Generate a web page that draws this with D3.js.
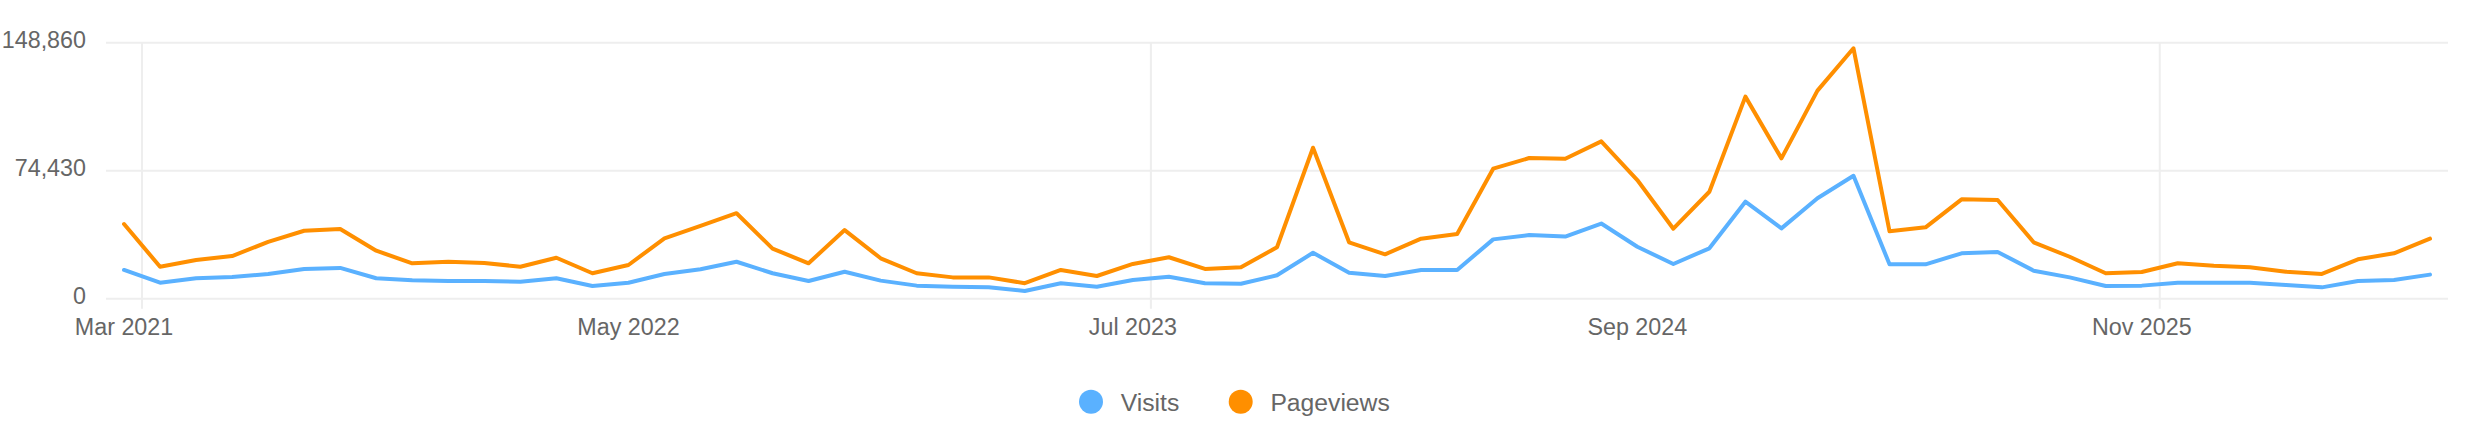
<!DOCTYPE html>
<html>
<head>
<meta charset="utf-8">
<script src="https://cdn.jsdelivr.net/npm/d3@7"></script>
<style>
  html, body { margin: 0; padding: 0; background: #fff; }
  svg { display: block; }
  text { font-family: "Liberation Sans", Arial, sans-serif; fill: #666; }
</style>
</head>
<body>
<svg id="chart" width="2468" height="440"></svg>
<script>
const months = [
  "2021-03","2021-04","2021-05","2021-06","2021-07","2021-08","2021-09","2021-10","2021-11","2021-12",
  "2022-01","2022-02","2022-03","2022-04","2022-05","2022-06","2022-07","2022-08","2022-09","2022-10","2022-11","2022-12",
  "2023-01","2023-02","2023-03","2023-04","2023-05","2023-06","2023-07","2023-08","2023-09","2023-10","2023-11","2023-12",
  "2024-01","2024-02","2024-03","2024-04","2024-05","2024-06","2024-07","2024-08","2024-09","2024-10","2024-11","2024-12",
  "2025-01","2025-02","2025-03","2025-04","2025-05","2025-06","2025-07","2025-08","2025-09","2025-10","2025-11","2025-12",
  "2026-01","2026-02","2026-03","2026-04","2026-05","2026-06","2026-07"
];
const visits = [16700,9300,11900,12600,14400,17300,17900,11900,10700,10300,
  10300,9900,11900,7400,9300,14400,17100,21500,14800,10300,
  15700,10500,7600,7000,6600,4500,9000,7000,10900,12800,
  9000,8700,13600,26700,15100,13200,16700,16700,34500,37000,
  36100,43700,30200,20200,29300,56400,40900,58400,71500,20000,
  20000,26400,27200,16300,12400,7400,7600,9300,9300,9300,
  8000,6600,10300,10900,14000];
const pageviews = [43400,18600,22500,24800,33000,39500,40500,27900,20600,21500,
  20800,18600,23800,14800,19600,35100,42300,49700,29100,20600,
  39900,23500,14800,12400,12400,9000,16700,13200,20200,24100,
  17300,18300,29900,87800,32800,25800,34900,37600,75600,81800,
  81400,91500,69000,40700,62200,117500,81600,121000,145600,39200,
  41500,57800,57400,32800,24400,14800,15500,20600,19200,18300,
  15700,14400,22900,26400,34900];
const xTickMonths = ["2021-03","2022-05","2023-07","2024-09","2025-11"];
const xTickLabels = ["Mar 2021","May 2022","Jul 2023","Sep 2024","Nov 2025"];
const xGridMonths = ["2021-03","2023-07","2025-11"];
const yTicks = [0, 74430, 148860];
const seriesNames = ["Visits","Pageviews"];
const seriesColors = ["#5ab1ff","#ff8f00"];

(function () {
const svg = d3.select("#chart");
const plotLeft = 106, plotRight = 2448, plotTop = 42.7, plotBottom = 298.7;

const x = d3.scaleBand().domain(months).range([plotLeft, plotRight]).paddingInner(0).paddingOuter(0);
const y = d3.scaleLinear().domain([0, 148860]).range([plotBottom, plotTop]);

// horizontal grid
svg.append("g").selectAll("line").data(yTicks).join("line")
  .attr("x1", plotLeft).attr("x2", plotRight)
  .attr("y1", d => y(d)).attr("y2", d => y(d))
  .attr("stroke", "#eeeeee").attr("stroke-width", 2);

// vertical grid
svg.append("g").selectAll("line").data(xGridMonths).join("line")
  .attr("x1", d => x(d) + x.bandwidth()).attr("x2", d => x(d) + x.bandwidth())
  .attr("y1", plotTop).attr("y2", plotBottom + 10)
  .attr("stroke", "#eeeeee").attr("stroke-width", 2);

// y axis
const yAxis = d3.axisLeft(y).tickValues(yTicks).tickFormat(d3.format(",")).tickSize(0).tickPadding(0);
const gy = svg.append("g").attr("transform", "translate(86,0)").call(yAxis);
gy.select(".domain").remove();
gy.selectAll("text").attr("font-size", 23.3).attr("font-family", "Liberation Sans, Arial, sans-serif")
  .attr("fill", "#666").attr("dy", null).attr("y", 5);

// x axis
const labelMap = new Map(xTickMonths.map((m, i) => [m, xTickLabels[i]]));
const xAxis = d3.axisBottom(x).tickValues(xTickMonths).tickFormat(d => labelMap.get(d)).tickSize(0).tickPadding(0);
const gx = svg.append("g").attr("transform", `translate(0,${plotBottom})`).call(xAxis);
gx.select(".domain").remove();
gx.selectAll("text").attr("font-size", 23.3).attr("font-family", "Liberation Sans, Arial, sans-serif")
  .attr("fill", "#666").attr("dy", null).attr("y", 36.5);

// lines
const series = [visits, pageviews];
const line = d3.line().x((d, i) => x(months[i]) + x.bandwidth() / 2).y(d => y(d));
svg.append("g").selectAll("path").data(series).join("path")
  .attr("d", d => line(d))
  .attr("fill", "none")
  .attr("stroke", (d, i) => seriesColors[i])
  .attr("stroke-width", 4)
  .attr("stroke-linejoin", "round")
  .attr("stroke-linecap", "round");

// legend
const legendX = [1091, 1240.7];
const items = svg.append("g").selectAll("g").data(seriesNames).join("g")
  .attr("transform", (d, i) => `translate(${legendX[i]},401.7)`);
items.append("circle").attr("r", 12).attr("fill", (d, i) => seriesColors[i]);
items.append("text").attr("x", 29.7).attr("y", 9).attr("font-size", 24.7).text(d => d);
})();
</script>
</body>
</html>
